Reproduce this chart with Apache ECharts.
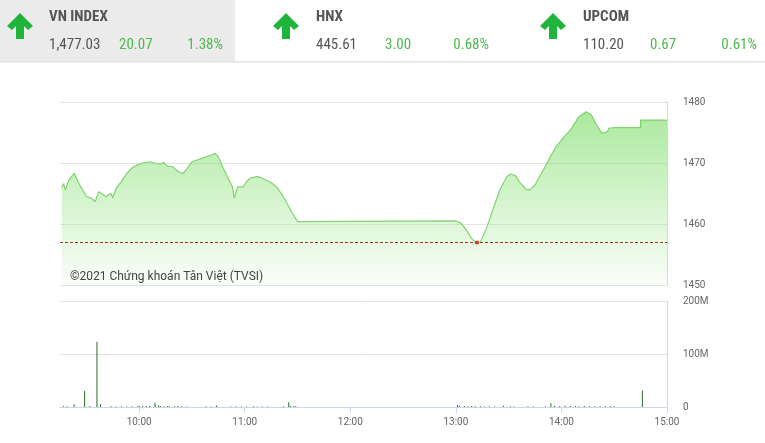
<!DOCTYPE html>
<html>
<head>
<meta charset="utf-8">
<script src="https://cdn.jsdelivr.net/npm/echarts@6/dist/echarts.min.js"></script>
<style>
  html, body { margin: 0; padding: 0; background: #fff; }
  #chart { width: 765px; height: 443px; }
</style>
</head>
<body>
<div id="chart"></div>
<script>
// chỉ số đầu trang
var indexNames = ['VN INDEX', 'HNX', 'UPCOM'];
var indexValues = ['1,477.03', '445.61', '110.20'];
var indexChanges = ['20.07', '3.00', '0.67'];
var indexPercents = ['1.38%', '0.68%', '0.61%'];

var refPrice = 1456.96; // tham chiếu

// diễn biến VN-Index trong phiên
var priceTimes = ['09:16','09:17','09:18','09:20','09:23','09:26','09:30','09:33','09:35','09:37','09:39','09:41','09:44','09:45','09:47','09:50','09:53','09:56','09:59','10:02','10:06','10:09','10:12','10:14','10:16','10:19','10:22','10:25','10:27','10:30','10:33','10:36','10:40','10:43','10:45','10:48','10:50','10:53','10:54','10:56','10:59','11:01','11:03','11:07','11:10','11:12','11:15','11:18','11:21','11:24','11:27','11:30','13:00','13:03','13:06','13:09','13:12','13:14','13:17','13:21','13:25','13:29','13:31','13:34','13:36','13:40','13:42','13:45','13:48','13:51','13:54','13:57','14:01','14:05','14:08','14:10','14:14','14:17','14:20','14:23','14:26','14:27','14:30','14:45','14:45','15:00'];
var priceValues = [1466.0,1466.6,1465.6,1467.2,1468.3,1466.5,1464.5,1464.2,1463.7,1465.3,1464.9,1464.5,1465.0,1464.3,1465.9,1467.0,1468.3,1469.2,1469.7,1470.0,1470.2,1470.0,1469.8,1470.1,1469.5,1469.4,1468.6,1468.3,1469.0,1470.2,1470.5,1470.8,1471.2,1471.6,1471.0,1469.0,1467.8,1466.1,1464.2,1466.1,1466.1,1466.9,1467.5,1467.8,1467.5,1467.2,1466.8,1466.1,1464.9,1463.4,1461.8,1460.4,1460.5,1460.1,1459.0,1457.6,1456.8,1457.1,1459.0,1462.3,1465.6,1467.8,1468.2,1467.9,1466.9,1465.7,1465.6,1466.4,1468.0,1469.5,1471.2,1472.7,1474.1,1475.4,1476.7,1477.6,1478.4,1477.9,1476.2,1474.9,1475.1,1475.7,1475.8,1475.8,1477.03,1477.03];

// đoạn dưới tham chiếu (tô đỏ)
var dipTimes = ['13:11', '13:12', '13:13'];
var dipValues = [1456.96, 1456.7, 1456.96];

// khối lượng khớp lệnh (triệu cp)
var volTimes = ['09:17','09:19','09:23','09:29','09:32','09:36','09:38','09:44','09:47','09:50','09:53','09:56','09:59','10:00','10:02','10:04','10:06','10:09','10:11','10:12','10:14','10:16','10:17','10:20','10:22','10:24','10:27','10:38','10:41','10:44','10:52','10:55','10:58','11:01','11:05','11:07','11:10','11:13','11:22','11:25','11:26','11:28','11:29','13:01','13:02','13:05','13:07','13:09','13:11','13:14','13:16','13:19','13:22','13:27','13:31','13:33','13:41','13:44','13:51','13:54','13:56','13:59','14:02','14:05','14:08','14:10','14:13','14:16','14:19','14:22','14:25','14:28','14:30','14:46'];
var volValues = [1.5,1.2,5,30,2,123,5,1.5,1,1.5,1,1.5,1,2.5,2,2,2.5,8,3,2,1.5,2,1.5,1.5,2,1.5,1,1.5,1,3,1,1.5,1,1,1.2,1,1,1,1.5,9,2,2,1.5,4,2,2,1.5,2,1.5,1.5,1,1.5,1,2.5,1.5,1,1.5,1,1.5,7,2.5,2,2.5,2,2,1.5,2,1.5,1.5,1.5,1.5,2,1.5,31];

var timeTicks = [600, 660, 720, 780, 840, 900];

function toMin(t) {
    var p = t.split(':');
    return (+p[0]) * 60 + (+p[1]);
}
function fmtTime(v) {
    var h = Math.floor(v / 60), m = v % 60;
    return h + ':' + (m < 10 ? '0' + m : m);
}

var priceData = priceTimes.map(function (t, i) { return [toMin(t), priceValues[i]]; });
var dipData = dipTimes.map(function (t, i) { return [toMin(t), dipValues[i]]; });
var volData = volTimes.map(function (t, i) { return [toMin(t), volValues[i] * 1e6]; });

var headFont = "'Roboto Condensed', 'Liberation Sans Narrow', 'Arial Narrow', Roboto, sans-serif";
var green = '#4cba4c';

// header boxes
var headX = [49, 316, 583];
var arrowX = [7, 273, 540];
var changeX = [119, 385, 650];
var pctRight = [223, 489, 757];
var graphics = [
    { type: 'rect', shape: { x: 0, y: 0, width: 235, height: 62 }, style: { fill: '#ebebeb' }, z: 0 },
    { type: 'rect', shape: { x: 0, y: 61, width: 765, height: 1.5 }, style: { fill: '#e2e2e2' }, z: 0 }
];
indexNames.forEach(function (n, i) {
    var ax = arrowX[i];
    graphics.push({
        type: 'polygon',
        shape: { points: [[ax + 13, 13], [ax + 26, 26], [ax + 21, 30], [ax + 17, 26], [ax + 17, 39], [ax + 9, 39], [ax + 9, 26], [ax + 5, 30], [ax, 26]] },
        style: { fill: '#1fb53a' }, z: 1
    });
    graphics.push({ type: 'text', x: headX[i], y: 17, style: { text: n, fill: '#555', font: 'bold 15px ' + headFont, textVerticalAlign: 'middle' }, z: 1 });
    graphics.push({ type: 'text', x: headX[i], y: 45, style: { text: indexValues[i], fill: '#555', font: '15px ' + headFont, textVerticalAlign: 'middle' }, z: 1 });
    graphics.push({ type: 'text', x: changeX[i], y: 45, style: { text: indexChanges[i], fill: green, font: '15px ' + headFont, textVerticalAlign: 'middle' }, z: 1 });
    graphics.push({ type: 'text', x: pctRight[i], y: 45, style: { text: indexPercents[i], fill: green, font: '15px ' + headFont, textAlign: 'right', textVerticalAlign: 'middle' }, z: 1 });
});
graphics.push({
    type: 'text', x: 70, y: 277,
    style: { text: '©2021 Chứng khoán Tân Việt (TVSI)', fill: '#444', font: '12px Roboto', textVerticalAlign: 'middle' }, z: 10
});

var chart = echarts.init(document.getElementById('chart'));
var option = {
    animation: false,
    graphic: graphics,
    grid: [
        { left: 60, right: 98, top: 102, height: 183, outerBoundsMode: 'none' },
        { left: 60, right: 98, top: 301, height: 106, outerBoundsMode: 'none' }
    ],
    xAxis: [
        {
            type: 'value', gridIndex: 0, min: 555, max: 900,
            axisLine: { show: false }, axisTick: { show: false }, axisLabel: { show: false }, splitLine: { show: false }
        },
        {
            type: 'value', gridIndex: 1, min: 555, max: 900,
            axisLine: { show: true, lineStyle: { color: '#ccd6eb' } },
            axisTick: { show: true, customValues: timeTicks, length: 6, lineStyle: { color: '#ccd6eb' } },
            axisLabel: { customValues: timeTicks, formatter: fmtTime, color: '#666', fontSize: 10, fontFamily: 'Roboto', margin: 10 },
            splitLine: { show: false }
        }
    ],
    yAxis: [
        {
            type: 'value', gridIndex: 0, position: 'right', min: 1450, max: 1480, interval: 10,
            axisLine: { show: true, lineStyle: { color: '#d8d8d8' } }, axisTick: { show: false },
            axisLabel: { color: '#666', fontSize: 10, fontFamily: 'Roboto', margin: 16, padding: [5, 0, 0, 0], formatter: function (v) { return String(v); } },
            splitLine: { lineStyle: { color: '#e3e3e3' } }
        },
        {
            type: 'value', gridIndex: 1, position: 'right', min: 0, max: 200e6, interval: 100e6,
            axisLine: { show: true, lineStyle: { color: '#d8d8d8' } }, axisTick: { show: false },
            axisLabel: {
                color: '#666', fontSize: 10, fontFamily: 'Roboto', margin: 16, padding: [5, 0, 0, 0],
                formatter: function (v) { return v === 0 ? '0' : (v / 1e6) + 'M'; }
            },
            splitLine: { lineStyle: { color: '#e3e3e3' } }
        }
    ],
    series: [
        {
            name: 'VN-Index', type: 'line', xAxisIndex: 0, yAxisIndex: 0,
            data: priceData, showSymbol: false, symbol: 'none',
            lineStyle: { width: 1.2, color: '#80d46f' },
            areaStyle: {
                origin: 'start',
                color: new echarts.graphic.LinearGradient(0, 0, 0, 1, [
                    { offset: 0, color: 'rgba(128,222,108,0.95)' },
                    { offset: 1, color: 'rgba(140,225,120,0.07)' }
                ])
            },
            markLine: {
                silent: true, symbol: 'none', label: { show: false },
                lineStyle: { color: '#9a3a14', type: [3, 2], width: 1 },
                data: [{ yAxis: refPrice }]
            }
        },
        {
            name: 'Dưới tham chiếu', type: 'line', xAxisIndex: 0, yAxisIndex: 0,
            data: dipData, showSymbol: false, symbol: 'none', z: 5,
            lineStyle: { width: 3.5, color: '#d83a1c' }
        },
        {
            name: 'KL', type: 'bar', xAxisIndex: 1, yAxisIndex: 1,
            data: volData, barWidth: 1, itemStyle: { color: '#276b27' }
        }
    ]
};
chart.setOption(option);
</script>
</body>
</html>
